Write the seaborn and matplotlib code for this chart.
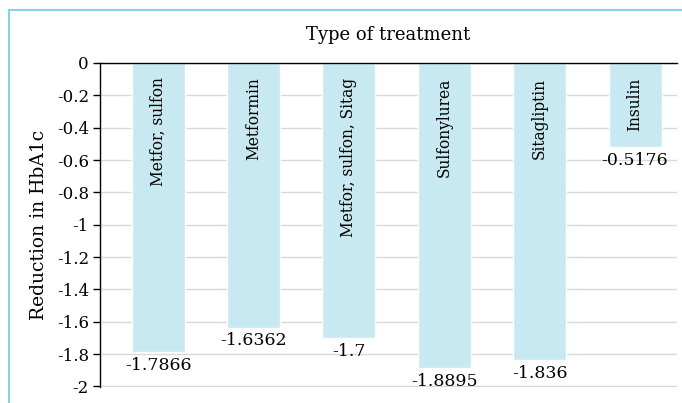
import matplotlib
matplotlib.use("Agg")
import matplotlib.pyplot as plt
import seaborn as sns
import pandas as pd
from matplotlib.patches import Rectangle

treatments = ["Metfor, sulfon", "Metformin", "Metfor, sulfon, Sitag",
              "Sulfonylurea", "Sitagliptin", "Insulin"]
reduction = [-1.7866, -1.6362, -1.7, -1.8895, -1.836, -0.5176]
value_labels = ["-1.7866", "-1.6362", "-1.7", "-1.8895", "-1.836", "-0.5176"]
yticks = [0, -0.2, -0.4, -0.6, -0.8, -1, -1.2, -1.4, -1.6, -1.8, -2]
ytick_labels = ["0", "-0.2", "-0.4", "-0.6", "-0.8", "-1", "-1.2", "-1.4", "-1.6", "-1.8", "-2"]

sns.set_style("white")
plt.rcParams["font.family"] = ["DejaVu Serif"]
plt.rcParams["text.color"] = "black"
plt.rcParams["ytick.color"] = "black"
plt.rcParams["axes.labelcolor"] = "black"

df = pd.DataFrame({"treatment": treatments, "reduction": reduction})

fig = plt.figure(figsize=(6.82, 4.03), dpi=100)
ax = fig.add_axes([100 / 682, 1 - 387 / 403, 577 / 682, 324 / 403])

sns.barplot(data=df, x="treatment", y="reduction", color="#c8e8f2",
            saturation=1, width=0.555, ax=ax)

ax.set_xlim(-0.61, 5.44)
ax.set_ylim(-2.004, 0)
ax.set_yticks(yticks)
ax.set_yticklabels(ytick_labels, fontsize=12)
ax.yaxis.grid(True, color="#d9d9d9", linewidth=1)
ax.set_axisbelow(True)
ax.set_xticks([])
ax.set_xlabel("")
ax.set_ylabel("Reduction in HbA1c", fontsize=13.5, labelpad=6)
ax.tick_params(axis="y", direction="out", length=5, width=1, color="black", left=True, pad=3)

for side in ["right", "bottom"]:
    ax.spines[side].set_visible(False)
ax.spines["left"].set_color("black")
ax.spines["top"].set_color("black")
ax.spines["left"].set_linewidth(1)
ax.spines["top"].set_linewidth(1)

# category names inside the bars, value below each bar
for i, (name, val, lab) in enumerate(zip(treatments, reduction, value_labels)):
    ax.text(i, -0.09, name, rotation=90, ha="center", va="top", fontsize=11.2)
    ax.text(i, val - 0.03, lab, ha="center", va="top", fontsize=12.5)

fig.text(388 / 682, 1 - 35 / 403, "Type of treatment", ha="center", va="center", fontsize=13)

# light blue frame cropped at right and bottom
fig.patches.append(Rectangle((9 / 682, -0.1), 1.2, 1 - 10 / 403 + 0.1,
                             transform=fig.transFigure, fill=False,
                             edgecolor="#86d4e6", linewidth=1.5))

fig.savefig("out.png", dpi=100)
